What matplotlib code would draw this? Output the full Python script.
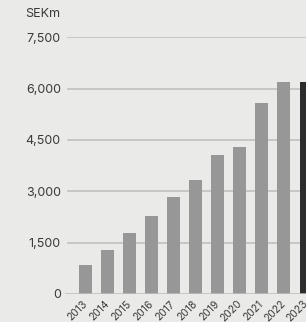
import matplotlib
matplotlib.use("Agg")
import matplotlib.pyplot as plt
import matplotlib.transforms as mtransforms

# ── data ──────────────────────────────────────────────────────────────────────
years = ["2013", "2014", "2015", "2016", "2017", "2018", "2019", "2020",
         "2021", "2022", "2023"]
values = [850, 1290, 1790, 2290, 2820, 3340, 4050, 4290, 5590, 6180, 6180]
highlight = "2023"
yticks = [0, 1500, 3000, 4500, 6000, 7500]
ylabels = ["0", "1,500", "3,000", "4,500", "6,000", "7,500"]

# ── colours ───────────────────────────────────────────────────────────────────
BG = "#eaebe8"
BAR = "#979797"
DARK = "#2d2d2d"
GRID = "#bdbdbb"
TEXT = "#3a3a3a"

plt.rcParams["font.family"] = ["Inter", "DejaVu Sans"]

fig = plt.figure(figsize=(3.06, 3.22), dpi=100)
fig.patch.set_facecolor(BG)
W, H = 306, 322
ax = fig.add_axes([65 / W, 28 / H, 241 / W, (294 - 37.3) / H])
ax.set_facecolor(BG)

x = list(range(len(years)))
colors = [DARK if y == highlight else BAR for y in years]
ax.bar(x, values, width=0.585, color=colors, zorder=3)

for v in yticks[1:]:
    ax.axhline(v, xmin=3 / 241, xmax=1, color=GRID, linewidth=1.1, zorder=1)
ax.axhline(0, color=GRID, linewidth=1.1, zorder=4)

ax.set_xlim(-0.9225, -0.9225 + 241 / 22.22)
ax.set_ylim(0, 7500)
ax.set_yticks(yticks)
ax.set_yticklabels(ylabels, color=TEXT, fontsize=9)
ax.set_xticks(x)
ax.set_xticklabels(years, color=TEXT, fontsize=7.5, rotation=45,
                   ha="right", va="center", rotation_mode="anchor")
off = mtransforms.ScaledTranslation(5 / 72, 0, fig.dpi_scale_trans)
for lab in ax.get_xticklabels():
    lab.set_transform(lab.get_transform() + off)
ax.tick_params(axis="both", length=0)
ax.tick_params(axis="y", pad=3)
ax.tick_params(axis="x", pad=6)
for s in ax.spines.values():
    s.set_visible(False)

fig.text(60.5 / W, 1 - 14 / H, "SEKm", color=TEXT, fontsize=9,
         ha="right", va="center")

fig.savefig("out.png", dpi=100, facecolor=BG)
